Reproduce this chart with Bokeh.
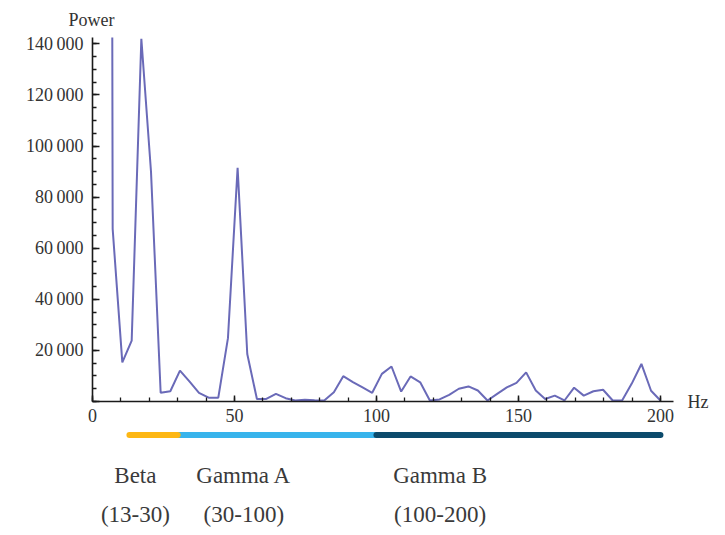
from bokeh.plotting import figure
from bokeh.layouts import column
from bokeh.models import Range1d, SingleIntervalTicker, FixedTicker, LinearAxis, ColumnDataSource
from bokeh.core.properties import value
from bokeh.embed import file_html
from bokeh.resources import INLINE

# ---------------- data ----------------
freq_hz = [3.7, 7.1, 10.5, 13.8, 17.2, 20.6, 24.0, 27.4, 30.8, 34.2,
           37.5, 40.9, 44.3, 47.7, 51.1, 54.5, 57.9, 61.2, 64.6, 68.0,
           71.4, 74.8, 78.2, 81.6, 85.0, 88.3, 91.7, 95.1, 98.5, 101.9,
           105.3, 108.7, 112.0, 115.4, 118.8, 122.2, 125.6, 129.0, 132.4, 135.7,
           139.1, 142.5, 145.9, 149.3, 152.7, 156.1, 159.4, 162.8, 166.2, 169.6,
           173.0, 176.4, 179.8, 183.2, 186.5, 189.9, 193.3, 196.7, 200.0]
power = [2000000, 67600, 15300, 23800, 142000, 90000, 3400, 4000, 12100, 7800,
         3400, 1500, 1500, 24800, 91500, 18600, 1000, 1000, 3000, 1300,
         400, 700, 500, 400, 3600, 9900, 7600, 5500, 3400, 10800,
         13700, 3900, 9800, 7500, 400, 800, 2600, 5000, 5900, 4300,
         400, 3000, 5500, 7300, 11400, 4300, 1000, 2300, 400, 5400,
         2300, 4000, 4600, 400, 400, 7000, 14700, 4200, 400]

band_names = ["Beta", "Gamma A", "Gamma B"]
band_ranges = ["(13-30)", "(30-100)", "(100-200)"]
band_start = [13, 30, 100]
band_end = [30, 100, 200]
band_colors = ["#FDB714", "#38B4EC", "#0C4B6C"]

y_tick_values = [0, 20000, 40000, 60000, 80000, 100000, 120000, 140000]
y_tick_labels = ["", "20\u2009000", "40\u2009000", "60\u2009000", "80\u2009000",
                 "100\u2009000", "120\u2009000", "140\u2009000"]

x_axis_name = "Hz"
y_axis_name = "Power"

FONT = "Liberation Serif"
AX = "#1a1a1a"
TXT = "#333333"

xr = Range1d(0, 204.6)

# ---------------- main chart ----------------
p1 = figure(width=717, height=431, x_range=xr, y_range=Range1d(0, 142500),
            output_backend="svg", toolbar_location=None,
            min_border_left=92, min_border_right=44, min_border_top=36, min_border_bottom=30)
p1.xgrid.grid_line_color = None
p1.ygrid.grid_line_color = None
p1.outline_line_color = None
p1.background_fill_color = "white"
p1.border_fill_color = "white"

p1.title.text = y_axis_name
p1.title.align = "left"
p1.title.offset = -24
p1.title.standoff = 15
p1.title.text_font = FONT
p1.title.text_font_size = "18px"
p1.title.text_font_style = "normal"
p1.title.text_color = TXT

p1.line(freq_hz, power, line_color="#6a6ab8", line_width=2)

for ax in (p1.xaxis[0], p1.yaxis[0]):
    ax.axis_line_color = AX
    ax.axis_line_width = 1.6
    ax.major_tick_line_color = AX
    ax.minor_tick_line_color = AX
    ax.major_tick_line_width = 1.5
    ax.minor_tick_line_width = 1.3
    ax.major_tick_out = 0
    ax.minor_tick_out = 0
    ax.major_label_text_font = FONT
    ax.major_label_text_font_size = "18px"
    ax.major_label_text_color = TXT

yax = p1.yaxis[0]
yax.ticker = SingleIntervalTicker(interval=20000, num_minor_ticks=4)
yax.major_tick_in = 7
yax.minor_tick_in = 4
yax.major_label_standoff = 9
yax.major_label_overrides = {v: t for v, t in zip(y_tick_values, y_tick_labels)}

xax = p1.xaxis[0]
xax.ticker = SingleIntervalTicker(interval=50, num_minor_ticks=5)
xax.major_tick_in = 6
xax.minor_tick_in = 4
xax.major_label_standoff = 7

# "Hz" name drawn as the single label of an invisible right-hand axis at y = 0
hz_axis = LinearAxis(ticker=FixedTicker(ticks=[0]), major_label_overrides={0: x_axis_name},
                     axis_line_color=None, major_tick_line_color=None, minor_tick_line_color=None,
                     major_tick_in=0, major_tick_out=0, major_label_standoff=14,
                     major_label_text_font=FONT, major_label_text_font_size="18px",
                     major_label_text_color=TXT)
p1.add_layout(hz_axis, "right")

# ---------------- band strip ----------------
p2 = figure(width=717, height=96, x_range=xr, y_range=Range1d(96, 0),
            output_backend="svg", toolbar_location=None,
            x_axis_location=None, y_axis_location=None,
            min_border_left=92, min_border_right=44, min_border_top=0, min_border_bottom=0)
p2.xgrid.grid_line_color = None
p2.ygrid.grid_line_color = None
p2.outline_line_color = None

bar_y = 3.5
for i in [1, 0, 2]:
    p2.segment(x0=[band_start[i]], y0=[bar_y], x1=[band_end[i]], y1=[bar_y],
               line_color=band_colors[i], line_width=6, line_cap="round")

label_x = [15.1, 53.3, 122.4]
src = ColumnDataSource(dict(x=label_x, name=band_names, rng=band_ranges))
p2.text(x="x", y=44, text="name", source=src, text_align="center", text_baseline="middle",
        text_font=value(FONT), text_font_size="23px", text_color="#3a3a3a")
p2.text(x="x", y=83, text="rng", source=src, text_align="center", text_baseline="middle",
        text_font=value(FONT), text_font_size="23px", text_color="#3a3a3a")

layout = column(p1, p2, spacing=0)
open("out.html", "w").write(file_html(layout, INLINE))
